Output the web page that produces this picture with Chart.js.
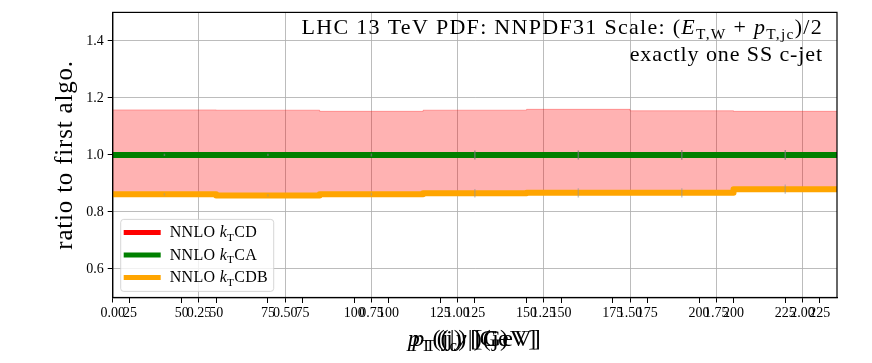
<!DOCTYPE html>
<html>
<head>
<meta charset="utf-8">
<script src="https://cdn.jsdelivr.net/npm/chart.js@4.4.1/dist/chart.umd.min.js"></script>
<style>
  html, body { margin: 0; padding: 0; background: #fff; }
  #wrap { width: 872px; height: 363px; }
</style>
</head>
<body>
<div id="wrap"><canvas id="ratio" width="872" height="363"></canvas></div>
<script>
// |y| bins of the histogram
var binEdges = [0, 0.3, 0.6, 0.9, 1.2, 1.5, 1.8, 2.1];
var binCenters = [0.15, 0.45, 0.75, 1.05, 1.35, 1.65, 1.95];

// ratios to first algorithm (kT CD)
var cdRatio  = [1.000, 1.000, 1.000, 1.000, 1.000, 1.000, 1.000];
var cdBandHi = [1.158, 1.157, 1.153, 1.157, 1.160, 1.155, 1.153];
var cdBandLo = [0.862, 0.858, 0.862, 0.866, 0.867, 0.867, 0.880];
var caRatio  = [1.000, 1.000, 1.000, 1.000, 1.000, 1.000, 1.000];
var caErr    = [0.004, 0.004, 0.005, 0.016, 0.016, 0.017, 0.017];
var cdbRatio = [0.862, 0.858, 0.862, 0.866, 0.867, 0.867, 0.880];
var cdbErr   = [0.004, 0.004, 0.005, 0.015, 0.016, 0.016, 0.016];

// tick labels
var ratioTicks = [0.6, 0.8, 1.0, 1.2, 1.4];
var absYTicks = [0, 0.25, 0.5, 0.75, 1.0, 1.25, 1.5, 1.75, 2.0];
var ptTicks = [0, 25, 50, 75, 100, 125, 150, 175, 200, 225, 250];

var SERIF = '"Liberation Serif", "DejaVu Serif", serif';

function steps(edges, vals) {
    var pts = [];
    for (var i = 0; i < vals.length; i++) pts.push({x: edges[i], y: vals[i]});
    pts.push({x: edges[edges.length - 1], y: vals[vals.length - 1]});
    return pts;
}

function errBars(centers, vals, errs) {
    var pts = [];
    for (var i = 0; i < vals.length; i++) {
        pts.push({x: centers[i], y: vals[i] - errs[i]});
        pts.push({x: centers[i], y: vals[i] + errs[i]});
        pts.push({x: centers[i], y: null});
    }
    return pts;
}

function pickTicks(list) {
    return function (scale) {
        scale.ticks = list.filter(function (v) {
            return v >= scale.min - 1e-9 && v <= scale.max + 1e-9;
        }).map(function (v) { return {value: v}; });
    };
}

// rich text: segments {t, i: italic, s: subscript}
function segFont(seg, size) {
    return (seg.i ? 'italic ' : '') + (seg.s ? size * 0.7 : size) + 'px ' + SERIF;
}
function richWidth(ctx, segs, size) {
    var w = 0;
    segs.forEach(function (seg) { ctx.font = segFont(seg, size); w += ctx.measureText(seg.t).width; });
    return w;
}
function drawRich(ctx, segs, x, y, size, align, spacing) {
    ctx.letterSpacing = (spacing || 0) + 'px';
    var w = richWidth(ctx, segs, size);
    if (align === 'right') x -= w;
    if (align === 'center') x -= w / 2;
    ctx.textBaseline = 'alphabetic';
    ctx.textAlign = 'left';
    segs.forEach(function (seg) {
        ctx.font = segFont(seg, size);
        ctx.fillText(seg.t, x, y + (seg.s ? size * 0.2 : 0));
        x += ctx.measureText(seg.t).width;
    });
    ctx.letterSpacing = '0px';
}

var legendItems = [
    {color: '#ff0000', segs: [{t: 'NNLO '}, {t: 'k', i: true}, {t: 'T', s: true}, {t: 'CD'}]},
    {color: '#008000', segs: [{t: 'NNLO '}, {t: 'k', i: true}, {t: 'T', s: true}, {t: 'CA'}]},
    {color: '#ffa500', segs: [{t: 'NNLO '}, {t: 'k', i: true}, {t: 'T', s: true}, {t: 'CDB'}]}
];

var titleLine1 = [{t: 'LHC 13 TeV PDF: NNPDF31 Scale: ('}, {t: 'E', i: true}, {t: 'T,W', s: true},
    {t: ' + '}, {t: 'p', i: true}, {t: 'T,jc', s: true}, {t: ')/2'}];
var titleLine2 = [{t: 'exactly one SS c-jet'}];

var xTitles = [
    [{t: 'p', i: true}, {t: 'T', s: true}, {t: '(j) [GeV]'}],
    [{t: 'p', i: true}, {t: 'T', s: true}, {t: '(j'}, {t: 'c', s: true}, {t: ') [GeV]'}],
    [{t: '(|'}, {t: 'y', i: true}, {t: '|)(j)'}]
];

var decorations = {
    id: 'decorations',
    afterDatasetsDraw: function (chart) {
        var ctx = chart.ctx;
        var a = chart.chartArea;
        ctx.save();
        ctx.fillStyle = '#000';

        // annotation, top right
        drawRich(ctx, titleLine1, a.right - 14, a.top + 22, 22, 'right', 1.3);
        drawRich(ctx, titleLine2, a.right - 14, a.top + 49, 22, 'right', 0.9);

        // legend
        var lx = a.left + 8, ly = a.top + 207, lw = 153, lh = 72;
        ctx.beginPath();
        ctx.roundRect(lx, ly, lw, lh, 3);
        ctx.fillStyle = 'rgba(255,255,255,0.8)';
        ctx.fill();
        ctx.strokeStyle = 'rgba(204,204,204,0.8)';
        ctx.lineWidth = 1;
        ctx.stroke();
        legendItems.forEach(function (item, k) {
            var yy = ly + 13 + k * 22.5;
            ctx.beginPath();
            ctx.moveTo(lx + 3, yy);
            ctx.lineTo(lx + 40, yy);
            ctx.strokeStyle = item.color;
            ctx.lineWidth = 5;
            ctx.stroke();
            ctx.fillStyle = '#000';
            drawRich(ctx, item.segs, lx + 49, yy + 5, 16, 'left', 0.3);
        });

        // frame
        ctx.strokeStyle = '#000';
        ctx.lineWidth = 1.2;
        ctx.strokeRect(a.left, a.top, a.right - a.left, a.bottom - a.top);

        // axis titles
        ctx.fillStyle = '#000';
        var cx = (a.left + a.right) / 2;
        xTitles.forEach(function (segs) { drawRich(ctx, segs, cx, 346, 24, 'center', 1.2); });

        ctx.translate(72, (a.top + a.bottom) / 2);
        ctx.rotate(-Math.PI / 2);
        drawRich(ctx, [{t: 'ratio to first algo.'}], 0, 0, 25, 'center', 0.8);
        ctx.restore();
    }
};

var lineBase = {pointRadius: 0, pointHoverRadius: 0, tension: 0, stepped: true, fill: false,
    borderJoinStyle: 'round', xAxisID: 'x', yAxisID: 'y'};

function ds(extra) { return Object.assign({}, lineBase, extra); }

var tickFont = {family: SERIF, size: 14};

new Chart(document.getElementById('ratio'), {
    type: 'line',
    data: {
        datasets: [
            ds({label: 'CA errors', data: errBars(binCenters, caRatio, caErr), stepped: false,
                borderColor: 'rgba(120,120,120,0.7)', borderWidth: 1.5, spanGaps: false, order: 0}),
            ds({label: 'CDB errors', data: errBars(binCenters, cdbRatio, cdbErr), stepped: false,
                borderColor: 'rgba(150,150,150,0.5)', borderWidth: 1.5, spanGaps: false, order: 0}),
            ds({label: 'NNLO kTCDB', data: steps(binEdges, cdbRatio), borderColor: '#ffa500', borderWidth: 6, order: 1}),
            ds({label: 'NNLO kTCA', data: steps(binEdges, caRatio), borderColor: '#008000', borderWidth: 6, order: 2}),
            ds({label: 'NNLO kTCD', data: steps(binEdges, cdRatio), borderColor: '#ff0000', borderWidth: 6, order: 3}),
            ds({label: 'CD band hi', data: steps(binEdges, cdBandHi), borderColor: 'rgba(255,0,0,0.3)', borderWidth: 1,
                backgroundColor: 'rgba(255,0,0,0.3)', fill: '+1', order: 4}),
            ds({label: 'CD band lo', data: steps(binEdges, cdBandLo), borderColor: 'rgba(255,0,0,0.3)', borderWidth: 1, order: 5})
        ]
    },
    options: {
        responsive: false,
        animation: false,
        devicePixelRatio: 1,
        layout: {padding: {left: 0, right: 35, top: 11, bottom: 0}},
        plugins: {legend: {display: false}, tooltip: {enabled: false}},
        scales: {
            x: {
                type: 'linear', position: 'bottom', min: 0, max: 2.1,
                afterBuildTicks: pickTicks(absYTicks),
                afterFit: function (s) { s.height = 65.5; },
                grid: {color: 'rgba(176,176,176,0.85)', lineWidth: 1, tickColor: '#000', tickLength: 5},
                border: {color: '#000', width: 1.2},
                ticks: {color: '#000', font: tickFont, padding: 2, maxRotation: 0, autoSkip: false,
                    callback: function (v) { return v.toFixed(2); }}
            },
            x2: {
                type: 'linear', position: {y: 0.5}, min: 20, max: 230,
                afterBuildTicks: pickTicks(ptTicks),
                grid: {drawOnChartArea: false, tickColor: '#000', tickLength: 5},
                border: {display: false},
                ticks: {color: '#000', font: tickFont, padding: 2, maxRotation: 0, autoSkip: false,
                    callback: function (v) { return String(v); }}
            },
            x3: {
                type: 'linear', position: {y: 0.5}, min: 30, max: 240,
                afterBuildTicks: pickTicks(ptTicks),
                grid: {drawOnChartArea: false, tickColor: '#000', tickLength: 5},
                border: {display: false},
                ticks: {color: '#000', font: tickFont, padding: 2, maxRotation: 0, autoSkip: false,
                    callback: function (v) { return String(v); }}
            },
            y: {
                type: 'linear', position: 'left', min: 0.5, max: 1.5,
                afterBuildTicks: pickTicks(ratioTicks),
                afterFit: function (s) { s.width = 112.7; },
                grid: {color: 'rgba(176,176,176,0.85)', lineWidth: 1, tickColor: '#000', tickLength: 5},
                border: {color: '#000', width: 1.2},
                ticks: {color: '#000', font: tickFont, padding: 4,
                    callback: function (v) { return v.toFixed(1); }}
            }
        }
    },
    plugins: [decorations]
});
</script>
</body>
</html>
